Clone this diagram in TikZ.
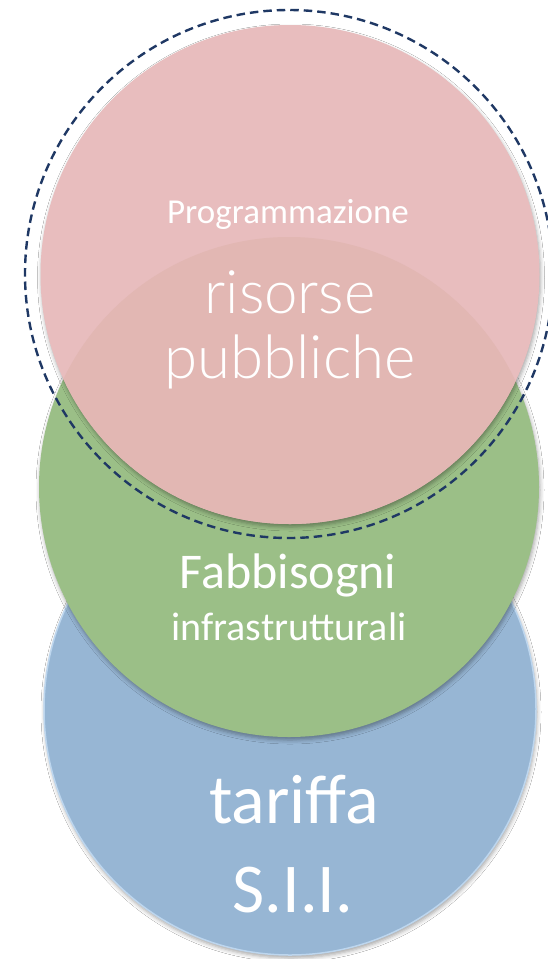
\documentclass[tikz,border=0pt]{standalone}
\usepackage{fontspec}
\setmainfont{Carlito}
\newfontfamily\lightfont{Lato Light}
\usetikzlibrary{shadows.blur}
\definecolor{pinkc}{HTML}{E8BDBE}
\definecolor{overlapc}{HTML}{E2B7B3}
\definecolor{greenc}{HTML}{9BBF87}
\definecolor{bluec}{HTML}{97B6D4}
\definecolor{bluel}{HTML}{BDD6EE}
\definecolor{navy}{HTML}{1F3864}
\begin{document}
\begin{tikzpicture}[x=1pt,y=-1pt,
  disc/.style={circle, inner sep=0pt, minimum size=#1,
    blur shadow={shadow xshift=1pt, shadow yshift=-3pt, shadow blur radius=4pt, shadow opacity=35}},
  lbl/.style={text=white, anchor=base, inner sep=0pt},
  ring/.style={circle, inner sep=0pt, draw=navy, line width=2.4pt, dash pattern=on 8.5pt off 5pt}]
\useasboundingbox (0,0) rectangle (548,959);
\fill[white] (0,0) rectangle (548,959);
\node[disc=492pt, fill=bluec, draw=bluel, line width=1.5pt] (blue) at (290,709) {};
\node[disc=500pt, fill=greenc] (green) at (289,487) {};
\node[disc=499pt, fill=pinkc] (pink) at (290,274.5) {};
\begin{scope}
  \clip (green.center) circle (250pt);
  \fill[overlapc] (pink.center) circle (249.5pt);
\end{scope}
\node[ring, minimum size=528pt] (dashring) at (289,274) {};
\node[lbl] (t1) at (288,223) {\fontsize{35}{42}\selectfont Programmazione};
\node[lbl] (t2) at (290,313) {\lightfont\fontsize{60}{72}\selectfont risorse};
\node[lbl] (t3) at (290,378) {\lightfont\fontsize{60}{72}\selectfont pubbliche};
\node[lbl] (t4) at (288,588) {\fontsize{50}{60}\selectfont Fabbisogni};
\node[lbl] (t5) at (289,640) {\fontsize{40}{48}\selectfont infrastrutturali};
\node[lbl] (t6) at (294,823) {\fontsize{70}{84}\selectfont tariffa};
\node[lbl] (t7) at (293,912) {\fontsize{70}{84}\selectfont S.I.I.};
\end{tikzpicture}
\end{document}
